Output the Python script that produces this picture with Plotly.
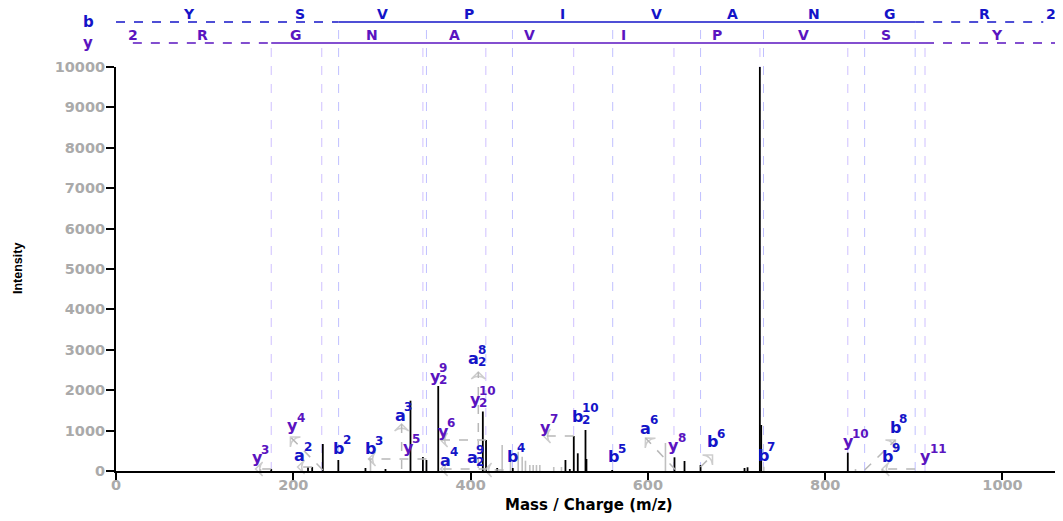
import plotly.graph_objects as go

# ---------------- data ----------------
peak_mz_black = [175.1, 216.6, 221.3, 233.3, 250.8, 281.4, 304.0, 332.2, 346.2, 350.2,
                 363.5, 413.8, 417.4, 430.0, 447.6, 507.0, 511.9, 516.4, 520.9, 529.6,
                 530.7, 559.7, 630.0, 641.3, 659.4, 709.0, 712.4, 726.3, 727.8, 825.5]
peak_int_black = [50, 100, 100, 668, 272, 74, 50, 1740, 346, 272,
                  2104, 1473, 767, 74, 74, 272, 50, 866, 438, 1015,
                  297, 25, 339, 248, 149, 74, 92, 10000, 1139, 453]

peak_mz_gray = [163.0, 287.1, 435.6, 445.0, 453.7, 458.2, 461.9, 466.8, 470.6, 474.3,
                478.1, 493.8, 502.5, 619.8, 730.7, 834.2, 864.3]
peak_int_gray = [50, 297, 643, 230, 478, 354, 255, 149, 149, 149,
                 149, 99, 99, 693, 106, 50, 50]

# fragment ladders (m/z boundaries) and residues
b_bounds = [0.0, 164.1, 251.1, 350.2, 447.2, 560.3, 659.4, 730.4, 844.5, 901.5, 1057.6]
b_residues = ["Y", "S", "V", "P", "I", "V", "A", "N", "G", "R"]
b_observed = [251.1, 350.2, 447.2, 560.3, 659.4, 730.4, 844.5, 901.5]

y_bounds = [19.0, 175.1, 232.1, 346.2, 417.2, 516.3, 629.4, 726.4, 825.5, 912.6, 1075.6]
y_residues = ["R", "G", "N", "A", "V", "I", "P", "V", "S", "Y"]
y_observed = [175.1, 232.1, 346.2, 417.2, 516.3, 629.4, 726.4, 825.5, 912.6]

# ion labels: base, superscript, subscript, label m/z, label intensity
ion_base = ["y", "y", "a", "b", "b", "a", "y", "y", "y", "a", "a", "y", "a",
            "b", "y", "b", "b", "a", "y", "b", "y", "b", "y", "b", "b", "y"]
ion_sup = ["3", "4", "2", "2", "3", "3", "5", "9", "6", "4", "9", "10", "8",
           "4", "7", "10", "5", "6", "8", "6", "9", "7", "10", "8", "9", "11"]
ion_sub = ["", "", "", "", "", "", "", "2", "", "", "2", "2", "2",
           "", "", "2", "", "", "", "", "", "", "", "", "", ""]
ion_lx = [159.6, 199.1, 207.0, 251.0, 287.1, 320.9, 329.9, 360.4, 369.4, 371.7, 402.1, 405.5, 403.3,
          447.3, 484.5, 520.6, 561.2, 597.3, 628.9, 672.9, 725.9, 730.4, 826.2, 879.2, 870.3, 913.3]
ion_ly = [322, 1114, 396, 569, 545, 1386, 594, 2351, 990, 272, 322, 1782, 2797,
          371, 1089, 1361, 347, 1064, 619, 718, 10272, 396, 718, 1089, 371, 347]

# leader arrows: from (peak) to (label)
lead_x0 = [175.1, 233.3, 221.3, 350.2, 322.2, 417.4, 419.2, 437.3, 408.7, 516.4, 631.4, 659.4, 844.5, 901.5]
lead_y0 = [50, 25, 99, 297, 50, 767, 50, 25, 74, 866, 25, 99, 25, 50]
lead_x1 = [157.4, 196.8, 204.8, 284.8, 322.2, 366.1, 366.1, 415.7, 408.7, 482.2, 597.3, 672.9, 879.2, 864.3]
lead_y1 = [50, 842, 99, 297, 1163, 767, 50, 25, 2450, 866, 817, 396, 767, 50]

# ---------------- style ----------------
FONT = "DejaVu Sans"
B_COL = "#1414c8"
Y_COL = "#5a14c0"
GUIDE_B = "#c0c0ff"
GUIDE_Y = "#cfc0ff"
GRAY = "#b8b8b8"
TICK_COL = "#aaaaaa"
XMAX = 1066
B_ROW = 1.1114
Y_ROW = 1.0594

fig = go.Figure()

def sticks(mz, inten):
    xs, ys = [], []
    for m, i in zip(mz, inten):
        xs += [m, m, None]
        ys += [0, i, None]
    return xs, ys

gx, gy = sticks(peak_mz_gray, peak_int_gray)
fig.add_trace(go.Scatter(x=gx, y=gy, mode="lines", line=dict(color="#c0c0c0", width=1.6),
                         hoverinfo="skip", showlegend=False))
bx, by = sticks(peak_mz_black, peak_int_black)
fig.add_trace(go.Scatter(x=bx, y=by, mode="lines", line=dict(color="black", width=1.8),
                         hoverinfo="skip", showlegend=False))

for x0, y0, x1, y1 in zip(lead_x0, lead_y0, lead_x1, lead_y1):
    fig.add_trace(go.Scatter(
        x=[x0, x1], y=[y0, y1], mode="lines+markers",
        line=dict(color=GRAY, width=1.5, dash="dash"),
        marker=dict(symbol="arrow-wide-open", size=[0, 10], angleref="previous",
                    color=GRAY, line=dict(color=GRAY, width=1.5)),
        hoverinfo="skip", showlegend=False, cliponaxis=False))

shapes = []
for m in b_observed:
    shapes.append(dict(type="line", xref="x", yref="paper", x0=m, x1=m, y0=0, y1=B_ROW,
                       line=dict(color=GUIDE_B, width=1, dash="dash"), layer="below"))
for m in y_observed:
    shapes.append(dict(type="line", xref="x", yref="paper", x0=m, x1=m, y0=0, y1=Y_ROW,
                       line=dict(color=GUIDE_Y, width=1, dash="dash"), layer="below"))

def seg(x0, x1, yy, col, dash):
    shapes.append(dict(type="line", xref="x", yref="paper", x0=x0, x1=min(x1, XMAX), y0=yy, y1=yy,
                       line=dict(color=col, width=1.5, dash=dash)))

seg(b_bounds[0], b_observed[0], B_ROW, B_COL, "dash")
seg(b_observed[0], b_observed[-1], B_ROW, B_COL, "solid")
seg(b_observed[-1], 1046, B_ROW, B_COL, "dash")
seg(y_bounds[0], y_observed[0], Y_ROW, Y_COL, "dash")
seg(y_observed[0], y_observed[-1], Y_ROW, Y_COL, "solid")
seg(y_observed[-1], y_bounds[-1], Y_ROW, Y_COL, "dash")

ann = []
def txt(x, y, t, size, col, xref="x", yref="y", family=FONT, **kw):
    d = dict(x=x, y=y, xref=xref, yref=yref, text=t, showarrow=False,
             font=dict(family=family, size=size, color=col, weight="bold"))
    d.update(kw)
    ann.append(d)

for i, r in enumerate(b_residues):
    txt((b_bounds[i] + b_bounds[i + 1]) / 2, B_ROW, r, 14, B_COL, yref="paper",
        yanchor="bottom", yshift=-2)
for i, r in enumerate(y_residues):
    xm = (y_bounds[i] + y_bounds[i + 1]) / 2
    txt(xm, Y_ROW, r, 14, Y_COL, yref="paper", yanchor="bottom", yshift=-2)
txt(b_bounds[-1], B_ROW, "2", 14, B_COL, yref="paper", yanchor="bottom", yshift=-2, xshift=-3)
txt(y_bounds[0], Y_ROW, "2", 14, Y_COL, yref="paper", yanchor="bottom", yshift=-2)
txt(0, B_ROW, "b", 15, B_COL, xref="paper", yref="paper", xshift=-28, xanchor="center", yanchor="middle")
txt(0, Y_ROW, "y", 15, Y_COL, xref="paper", yref="paper", xshift=-28, xanchor="center", yanchor="middle")

for base, sup, sub, lx, ly in zip(ion_base, ion_sup, ion_sub, ion_lx, ion_ly):
    col = Y_COL if base == "y" else B_COL
    txt(lx, ly, base, 16, col, xanchor="center", yanchor="middle")
    if sup:
        txt(lx, ly, sup, 12, col, xanchor="left", yanchor="middle", xshift=2, yshift=8)
    if sub:
        txt(lx, ly, sub, 12, col, xanchor="left", yanchor="middle", xshift=2, yshift=-4)

txt(0.5, -0.084, "Mass / Charge (m/z)", 15, "black", xref="paper", yref="paper",
    xanchor="center", yanchor="middle")
txt(-0.1037, 0.5, "Intensity", 12.5, "black", xref="paper", yref="paper",
    family="Liberation Sans", xanchor="center", yanchor="middle", textangle=-90)

# the page body adds an 8 px offset; margins compensate so the plot area lands where intended
fig.update_layout(
    width=1063, height=521,
    margin=dict(l=108, r=10, t=59, b=58),
    plot_bgcolor="white", paper_bgcolor="white",
    shapes=shapes, annotations=ann, showlegend=False,
    xaxis=dict(range=[0, XMAX], showgrid=False, zeroline=False, showline=True, automargin=False,
               linecolor="black", linewidth=2, ticks="outside", ticklen=7, tickwidth=2,
               tickcolor="black", tick0=0, dtick=200, ticklabelstandoff=-7,
               tickfont=dict(family=FONT, size=14.5, color=TICK_COL, weight="bold")),
    yaxis=dict(range=[0, 10000], showgrid=False, zeroline=False, showline=True, automargin=False,
               linecolor="black", linewidth=2, ticks="outside", ticklen=8, tickwidth=2,
               tickcolor="black", tick0=0, dtick=1000, tickformat="d", ticklabelstandoff=-2,
               tickfont=dict(family=FONT, size=14.5, color=TICK_COL, weight="bold")),
)

fig.write_html("out.html")
